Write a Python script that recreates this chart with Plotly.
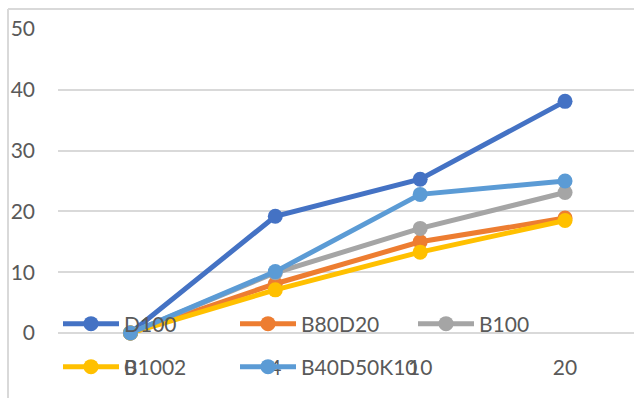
import plotly.graph_objects as go

# Days of exposure (category axis) and measured values per blend
categories = ["0", "4", "10", "20"]
series_names = ["D100", "B80D20", "B100", "B1002", "B40D50K10"]
d100 = [0, 19.2, 25.3, 38.1]
b80d20 = [0, 8.1, 15.0, 18.9]
b100 = [0, 9.9, 17.2, 23.1]
b1002 = [0, 7.1, 13.3, 18.5]
b40d50k10 = [0, 10.1, 22.8, 25.0]
y_ticks = [0, 10, 20, 30, 40, 50]

values = [d100, b80d20, b100, b1002, b40d50k10]
colors = ["#4472C4", "#ED7D31", "#A5A5A5", "#FFC000", "#5B9BD5"]

W, H = 634, 398
L, R, T, B = 58, 0, 29, 65
FONT = "Lato"
TEXT = "#595959"
GRID = "#D9D9D9"

# legend entry anchors (left edge of sample line, row centre) in pixels
legend_pos = [(63, 324), (240, 324), (418, 324), (63, 367), (240, 367)]
legend_ids = ["legend"] + [f"legend{i}" for i in range(2, 6)]

fig = go.Figure()
for name, vals, col, lg in zip(series_names, values, colors, legend_ids):
    fig.add_trace(go.Scatter(
        x=categories, y=vals, name=name, mode="lines+markers",
        line=dict(color=col, width=5),
        marker=dict(color=col, size=15),
        cliponaxis=False, legend=lg,
    ))

legend_common = dict(
    orientation="h", xref="container", yref="container",
    xanchor="left", yanchor="middle",
    font=dict(family=FONT, size=21, color=TEXT),
    bgcolor="rgba(0,0,0,0)",
    itemwidth=56, itemclick=False,
)

legends = {
    lg: dict(**legend_common, x=(px - 5) / W, y=1 - py / H)
    for lg, (px, py) in zip(legend_ids, legend_pos)
}

pw = W - L - R
ph = H - T - B


def px_x(px):
    return (px - L) / pw


def px_y(py):
    return (H - B - py) / ph


fig.update_layout(
    width=W, height=H,
    margin=dict(l=L, r=R, t=T, b=B, autoexpand=False),
    paper_bgcolor="white", plot_bgcolor="white",
    font=dict(family=FONT, color=TEXT),
    showlegend=True,
    **legends,
    xaxis=dict(
        type="category", range=[-0.5, 3.476],
        showgrid=False, showline=False, zeroline=False,
        ticks="", tickfont=dict(family=FONT, size=21, color=TEXT),
        ticklabelstandoff=20,
    ),
    yaxis=dict(
        range=[0, 50], tickvals=y_ticks,
        showgrid=True, gridcolor=GRID, gridwidth=1.5,
        zeroline=True, zerolinecolor=GRID, zerolinewidth=1.5,
        showline=False, ticks="",
        tickfont=dict(family=FONT, size=21, color=TEXT),
        ticklabelstandoff=22,
    ),
    shapes=[
        # chart frame (left and top edges)
        dict(type="line", xref="paper", yref="paper",
             x0=px_x(8), x1=px_x(8), y0=px_y(9), y1=px_y(H + 5),
             line=dict(color=GRID, width=2)),
        dict(type="line", xref="paper", yref="paper",
             x0=px_x(8), x1=px_x(W + 5), y0=px_y(9), y1=px_y(9),
             line=dict(color=GRID, width=2)),
    ],
)

fig.write_html("out.html")
